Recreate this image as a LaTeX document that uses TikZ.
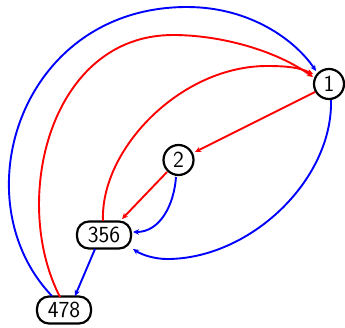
\documentclass[tikz,border=0pt]{standalone}
\usetikzlibrary{arrows.meta}
\begin{document}
\begin{tikzpicture}[x=1pt,y=-1pt,
  circ/.style={draw,circle,line width=2.2pt,inner sep=0pt,minimum size=30pt,font=\sffamily\fontsize{23}{23}\selectfont},
  pill/.style={draw,rectangle,rounded corners=12pt,line width=2.2pt,inner sep=0pt,minimum width=54pt,minimum height=27pt,font=\sffamily\fontsize{23}{23}\selectfont},
  edge/.style={line width=1.9pt,-{Stealth[length=6pt,width=5.5pt]}},
  redge/.style={edge,red},
  bedge/.style={edge,blue}]
\useasboundingbox (0,0) rectangle (345,327);
\node[circ] (n1) at (329,84) {1};
\node[circ] (n2) at (178.5,160) {2};
\node[pill] (n356) at (104,235) {356};
\node[pill] (n478) at (64,310) {478};
% blue 478 -> 1
\draw[bedge] ([shift={(-12,-14)}]n478.center) .. controls (-40,200) and (20,7) .. (187,7)
  .. controls (250,7) and (295,40) .. ([shift={(-13,-13)}]n1.center);
% red 478 -> 1
\draw[redge] ([shift={(-4,-13)}]n478.center) .. controls (10,200) and (50,35) .. (173,35)
  .. controls (220,35) and (275,50) .. ([shift={(-16,-7)}]n1.center);
% red 356 -> 1
\draw[redge] ([shift={(-1,-14)}]n356.center) .. controls (100,150) and (180,66) .. (267,66)
  .. controls (290,66) and (300,68) .. ([shift={(-16,-10)}]n1.center);
% red 1 -> 2
\draw[redge] ([shift={(-14,8)}]n1.center) -- ([shift={(16.5,-8)}]n2.center);
% blue 1 -> 356
\draw[bedge] ([shift={(2,16)}]n1.center) .. controls (333,180) and (250,259) .. (167,259)
  .. controls (155,259) and (142,255) .. ([shift={(29,14)}]n356.center);
% blue 2 -> 356
\draw[bedge] ([shift={(-2.5,17)}]n2.center) .. controls (174,205) and (160,232) .. ([shift={(29,-3)}]n356.center);
% red 2 -> 356
\draw[redge] ([shift={(-11.5,12)}]n2.center) -- ([shift={(18,-16)}]n356.center);
% blue 356 -> 478
\draw[bedge] ([shift={(-9,14)}]n356.center) -- ([shift={(11,-14)}]n478.center);
\end{tikzpicture}
\end{document}
